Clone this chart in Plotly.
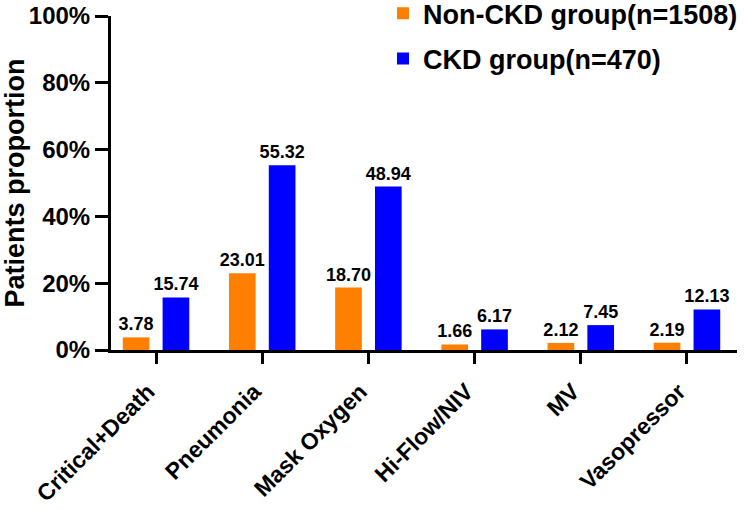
import plotly.graph_objects as go

categories = ["Critical+Death", "Pneumonia", "Mask Oxygen", "Hi-Flow/NIV", "MV", "Vasopressor"]
non_ckd = [3.78, 23.01, 18.70, 1.66, 2.12, 2.19]
ckd = [15.74, 55.32, 48.94, 6.17, 7.45, 12.13]
series_names = ["Non-CKD group(n=1508)", "CKD group(n=470)"]
y_ticks = [0, 20, 40, 60, 80, 100]
y_tick_labels = ["0%", "20%", "40%", "60%", "80%", "100%"]

FONT = "Liberation Sans, Arial, sans-serif"
LABEL_FONT = dict(family=FONT, size=18, color="black", weight="bold")

fig = go.Figure()
fig.add_trace(go.Bar(
    x=categories, y=non_ckd, name=series_names[0], legendgroup="a",
    marker=dict(color="#FF7F00", line=dict(width=0)),
    text=[f"{v:.2f}" for v in non_ckd], textposition="outside",
    textfont=LABEL_FONT, constraintext="none", cliponaxis=False,
))
fig.add_trace(go.Bar(
    x=categories, y=ckd, name=series_names[1], legendgroup="b",
    marker=dict(color="#0000FF", line=dict(width=0)),
    text=[f"{v:.2f}" for v in ckd], textposition="outside",
    textfont=LABEL_FONT, constraintext="none", cliponaxis=False,
))

fig.update_layout(
    width=744, height=510,
    margin=dict(l=111, r=7, t=16, b=160, autoexpand=False),
    paper_bgcolor="white", plot_bgcolor="white",
    barmode="group", bargap=0.25, bargroupgap=0.33,
    font=dict(family=FONT, color="black"),
    showlegend=True,
    legend=dict(
        x=383 / 744, xanchor="left", xref="container",
        y=1.08, yanchor="top", yref="paper",
        font=dict(family=FONT, size=27, color="black", weight="bold"),
        traceorder="grouped", tracegroupgap=7,
        bgcolor="rgba(0,0,0,0)",
    ),
    xaxis=dict(
        range=[-0.424, 5.471],
        showline=True, linecolor="black", linewidth=3,
        ticks="outside", ticklen=11, tickwidth=3, tickcolor="black",
        tickangle=-45, ticklabelstandoff=5, ticklabelshift=-8,
        tickfont=dict(family=FONT, size=23, color="black", weight="bold"),
        showgrid=False, zeroline=False,
    ),
    yaxis=dict(
        range=[0, 100], tickvals=y_ticks, ticktext=y_tick_labels,
        showline=True, linecolor="black", linewidth=3,
        ticks="outside", ticklen=13, tickwidth=3, tickcolor="black",
        tickfont=dict(family=FONT, size=24, color="black", weight="bold"),
        showgrid=False, zeroline=False,
        title=dict(text="Patients proportion", standoff=3,
                   font=dict(family=FONT, size=27, color="black", weight="bold")),
    ),
)

fig.write_html("out.html", config={"displayModeBar": False},
               post_script="document.body.style.margin='0px';")
